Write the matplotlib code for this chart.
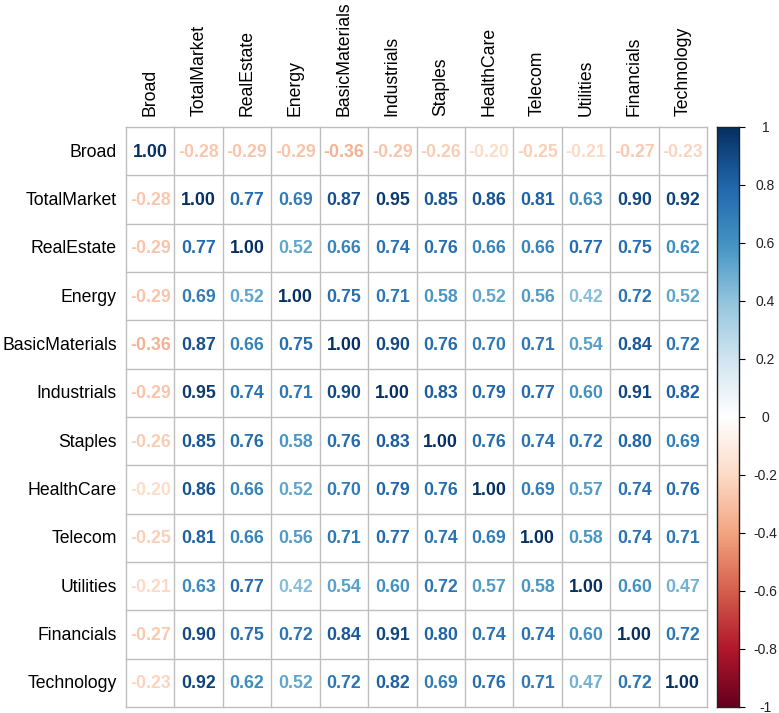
import matplotlib
matplotlib.use("Agg")
import matplotlib.pyplot as plt
import numpy as np
from matplotlib.colors import LinearSegmentedColormap

plt.rcParams['font.family'] = ['Liberation Sans', 'DejaVu Sans']

labels = ["Broad", "TotalMarket", "RealEstate", "Energy", "BasicMaterials",
          "Industrials", "Staples", "HealthCare", "Telecom", "Utilities",
          "Financials", "Technology"]

corr_rows = [
    [1.00, -0.28, -0.29, -0.29, -0.36, -0.29, -0.26, -0.20, -0.25, -0.21, -0.27, -0.23],
    [-0.28, 1.00, 0.77, 0.69, 0.87, 0.95, 0.85, 0.86, 0.81, 0.63, 0.90, 0.92],
    [-0.29, 0.77, 1.00, 0.52, 0.66, 0.74, 0.76, 0.66, 0.66, 0.77, 0.75, 0.62],
    [-0.29, 0.69, 0.52, 1.00, 0.75, 0.71, 0.58, 0.52, 0.56, 0.42, 0.72, 0.52],
    [-0.36, 0.87, 0.66, 0.75, 1.00, 0.90, 0.76, 0.70, 0.71, 0.54, 0.84, 0.72],
    [-0.29, 0.95, 0.74, 0.71, 0.90, 1.00, 0.83, 0.79, 0.77, 0.60, 0.91, 0.82],
    [-0.26, 0.85, 0.76, 0.58, 0.76, 0.83, 1.00, 0.76, 0.74, 0.72, 0.80, 0.69],
    [-0.20, 0.86, 0.66, 0.52, 0.70, 0.79, 0.76, 1.00, 0.69, 0.57, 0.74, 0.76],
    [-0.25, 0.81, 0.66, 0.56, 0.71, 0.77, 0.74, 0.69, 1.00, 0.58, 0.74, 0.71],
    [-0.21, 0.63, 0.77, 0.42, 0.54, 0.60, 0.72, 0.57, 0.58, 1.00, 0.60, 0.47],
    [-0.27, 0.90, 0.75, 0.72, 0.84, 0.91, 0.80, 0.74, 0.74, 0.60, 1.00, 0.72],
    [-0.23, 0.92, 0.62, 0.52, 0.72, 0.82, 0.69, 0.76, 0.71, 0.47, 0.72, 1.00],
]

cbar_ticks = [-1, -0.8, -0.6, -0.4, -0.2, 0, 0.2, 0.4, 0.6, 0.8, 1]
cbar_ticklabels = ["-1", "-0.8", "-0.6", "-0.4", "-0.2", "0", "0.2", "0.4", "0.6", "0.8", "1"]

rdbu = LinearSegmentedColormap.from_list(
    "rdbu2",
    ["#67001F", "#B2182B", "#D6604D", "#F4A582", "#FDDBC7", "#FFFFFF",
     "#D1E5F0", "#92C5DE", "#4393C3", "#2166AC", "#053061"], N=200)

W, H = 779, 713
fig = plt.figure(figsize=(W / 100, H / 100), dpi=100)

def px_axes(x0, y0, x1, y1):
    return fig.add_axes([x0 / W, 1 - y1 / H, (x1 - x0) / W, (y1 - y0) / H])

corr = np.array(corr_rows)
n = len(labels)

# correlation grid
ax = px_axes(126, 127, 707, 707)
ax.set_xlim(0, n)
ax.set_ylim(n, 0)
ax.set_axis_off()
grid_col = "#BEBEBE"
for k in range(n + 1):
    ax.plot([k, k], [0, n], color=grid_col, lw=1.0, clip_on=False)
    ax.plot([0, n], [k, k], color=grid_col, lw=1.0, clip_on=False)

for i in range(n):
    for j in range(n):
        v = corr[i, j]
        ax.text(j + 0.5, i + 0.52, f"{v:.2f}", ha="center", va="center",
                fontsize=12.8, fontweight="bold", color=rdbu((v + 1) / 2))

# row labels
for i, lab in enumerate(labels):
    ax.text(-0.19, i + 0.52, lab, ha="right", va="center", fontsize=12.7, color="black")
# column labels
for j, lab in enumerate(labels):
    ax.text(j + 0.5, -0.22, lab, ha="center", va="bottom", rotation=90,
            fontsize=12.7, color="black")

# colour bar
cax = px_axes(717, 127, 739, 707)
grad = np.linspace(-1, 1, 200).reshape(-1, 1)
cax.imshow(grad, cmap=rdbu, vmin=-1, vmax=1, aspect="auto", origin="lower",
           extent=[0, 1, -1, 1])
cax.set_xlim(0, 1)
cax.set_ylim(-1, 1)
cax.set_xticks([])
cax.yaxis.tick_right()
cax.set_yticks(cbar_ticks)
cax.set_yticklabels(cbar_ticklabels, fontsize=10, color="#222222")
cax.tick_params(axis="y", length=4, width=0.8, pad=15)
for lbl in cax.get_yticklabels():
    lbl.set_horizontalalignment("center")
for s in cax.spines.values():
    s.set_linewidth(1.0)
    s.set_color("#222222")

fig.savefig("out.png", dpi=100)
